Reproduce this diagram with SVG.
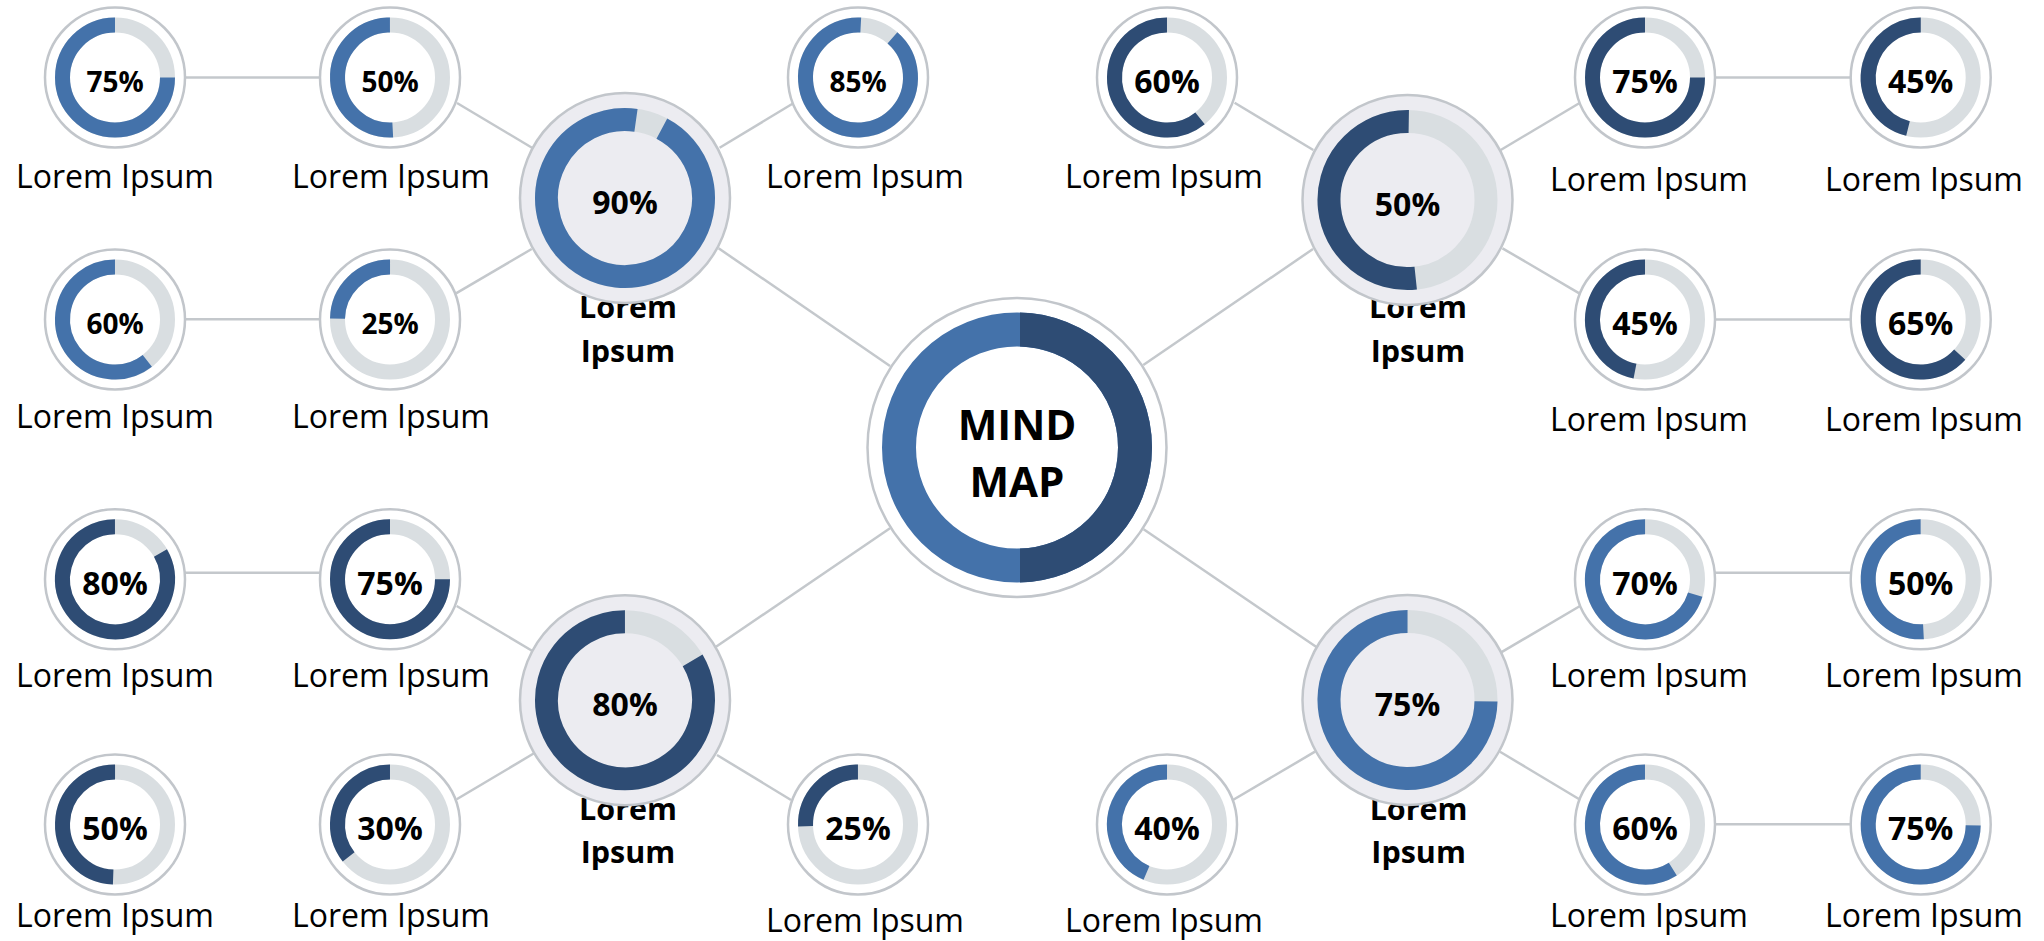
<svg xmlns="http://www.w3.org/2000/svg" width="2044" height="941" viewBox="0 0 2044 941">
<defs>
<style>
.bg{fill:#ffffff}
.conn line{stroke:#c4c8cc;stroke-width:2.5;fill:none}
.so{fill:#ffffff;stroke:#c2c6cb;stroke-width:2.5}
.ho{fill:#ececf1;stroke:#c2c6cb;stroke-width:2.5}
.sb{fill:none;stroke:#d9dee1;stroke-width:15}
.hb{fill:none;stroke:#d9dee1;stroke-width:23}
.sa{fill:none;stroke-width:15}
.ha{fill:none;stroke-width:23}
.lt{stroke:#4472aa}
.dk{stroke:#2e4c74}
.p27{font-family:"Open Sans","Liberation Sans",sans-serif;font-weight:700;font-size:28px;fill:#000;text-anchor:middle}
.p32{font-family:"Open Sans","Liberation Sans",sans-serif;font-weight:700;font-size:32px;fill:#000;text-anchor:middle}
.lbl{font-family:"Open Sans","Liberation Sans",sans-serif;font-size:32px;fill:#000;text-anchor:middle}
.hl{font-family:"Open Sans","Liberation Sans",sans-serif;font-weight:700;font-size:30.5px;fill:#000;text-anchor:middle}
.mm{font-family:"Open Sans","Liberation Sans",sans-serif;font-weight:700;font-size:42px;fill:#000;text-anchor:middle}
</style>
<clipPath id="rightHalf"><rect x="1020" y="280" width="200" height="340"/></clipPath>
</defs>
<rect class="bg" x="0" y="0" width="2044" height="941"/>

<g id="connectors" class="conn">
<line x1="185" y1="77.5" x2="320" y2="77.5"/>
<line x1="457" y1="103" x2="532" y2="147.7"/>
<line x1="456" y1="293.3" x2="531.7" y2="249"/>
<line x1="185" y1="319.3" x2="320" y2="319.3"/>
<line x1="719.6" y1="147.7" x2="793.3" y2="103.3"/>
<line x1="718.6" y1="248.3" x2="890" y2="366"/>
<line x1="1234.6" y1="102.7" x2="1313.3" y2="150"/>
<line x1="1143.3" y1="365" x2="1313" y2="249"/>
<line x1="1500.7" y1="150" x2="1580" y2="102.7"/>
<line x1="1502.5" y1="248.3" x2="1579.3" y2="293.3"/>
<line x1="1715" y1="77.5" x2="1851" y2="77.5"/>
<line x1="1715" y1="319.5" x2="1851" y2="319.5"/>
<line x1="185" y1="572.7" x2="320" y2="572.7"/>
<line x1="456.7" y1="606" x2="532" y2="650.7"/>
<line x1="456.7" y1="799.3" x2="534" y2="753.3"/>
<line x1="716" y1="646.7" x2="890" y2="528.3"/>
<line x1="717" y1="755" x2="791" y2="800"/>
<line x1="1143.6" y1="529.3" x2="1316.8" y2="647.3"/>
<line x1="1315" y1="751.7" x2="1232.9" y2="800"/>
<line x1="1500.7" y1="652.7" x2="1580" y2="606"/>
<line x1="1500" y1="751.7" x2="1579.3" y2="799.3"/>
<line x1="1715" y1="572.7" x2="1851" y2="572.7"/>
<line x1="1715" y1="824.3" x2="1851" y2="824.3"/>
</g>

<!-- Center -->
<g id="center">
<circle cx="1017" cy="447.5" r="149.5" class="so"/>
<circle cx="1017" cy="447.5" r="118" fill="none" stroke="#4472aa" stroke-width="34"/>
<circle cx="1017" cy="447.5" r="118" fill="none" stroke="#2e4c74" stroke-width="34" clip-path="url(#rightHalf)"/>
<text class="mm" x="1017" y="440">MIND</text>
<text class="mm" x="1017" y="497">MAP</text>
</g>

<!-- Hubs -->
<g id="hub-tl">
<text class="hl" x="628" y="318.3">Lorem</text>
<text class="hl" x="628" y="361.7">Ipsum</text>
<circle cx="625" cy="198" r="105" class="ho"/>
<circle cx="625" cy="198" r="78.5" class="hb"/>
<circle cx="625" cy="198" r="78.5" class="ha lt" pathLength="360" stroke-dasharray="340 360" transform="rotate(-62 625 198)"/>
<text class="p32" x="625" y="214">90%</text>
</g>
<g id="hub-tr">
<text class="hl" x="1418" y="318.3">Lorem</text>
<text class="hl" x="1418" y="361.7">Ipsum</text>
<circle cx="1407.5" cy="200" r="105" class="ho"/>
<circle cx="1407.5" cy="200" r="78.5" class="hb"/>
<circle cx="1407.5" cy="200" r="78.5" class="ha dk" pathLength="360" stroke-dasharray="187 360" transform="rotate(84 1407.5 200)"/>
<text class="p32" x="1407.5" y="216">50%</text>
</g>
<g id="hub-bl">
<text class="hl" x="628" y="820">Lorem</text>
<text class="hl" x="628" y="863.3">Ipsum</text>
<circle cx="625" cy="700.3" r="105" class="ho"/>
<circle cx="625" cy="700.3" r="78.5" class="hb"/>
<circle cx="625" cy="700.3" r="78.5" class="ha dk" pathLength="360" stroke-dasharray="300.5 360" transform="rotate(-30.5 625 700.3)"/>
<text class="p32" x="625" y="716.3">80%</text>
</g>
<g id="hub-br">
<text class="hl" x="1418.6" y="820">Lorem</text>
<text class="hl" x="1418.6" y="863.3">Ipsum</text>
<circle cx="1407.5" cy="700" r="105" class="ho"/>
<circle cx="1407.5" cy="700" r="78.5" class="hb"/>
<circle cx="1407.5" cy="700" r="78.5" class="ha lt" pathLength="360" stroke-dasharray="269 360" transform="rotate(1 1407.5 700)"/>
<text class="p32" x="1407.5" y="716">75%</text>
</g>

<!-- Top-left leaves -->
<g id="tl-a">
<circle cx="115" cy="77.5" r="70" class="so"/>
<circle cx="115" cy="77.5" r="52.5" class="sb"/>
<circle cx="115" cy="77.5" r="52.5" class="sa lt" pathLength="360" stroke-dasharray="270 360" transform="rotate(0 115 77.5)"/>
<text class="p27" x="115" y="91.5">75%</text>
<text class="lbl" x="115" y="187.7">Lorem Ipsum</text>
</g>
<g id="tl-b">
<circle cx="390" cy="77.5" r="70" class="so"/>
<circle cx="390" cy="77.5" r="52.5" class="sb"/>
<circle cx="390" cy="77.5" r="52.5" class="sa lt" pathLength="360" stroke-dasharray="183 360" transform="rotate(87 390 77.5)"/>
<text class="p27" x="390" y="91.5">50%</text>
<text class="lbl" x="391" y="187.7">Lorem Ipsum</text>
</g>
<g id="tl-c">
<circle cx="115" cy="319.5" r="70" class="so"/>
<circle cx="115" cy="319.5" r="52.5" class="sb"/>
<circle cx="115" cy="319.5" r="52.5" class="sa lt" pathLength="360" stroke-dasharray="218 360" transform="rotate(52 115 319.5)"/>
<text class="p27" x="115" y="333.5">60%</text>
<text class="lbl" x="115" y="427.7">Lorem Ipsum</text>
</g>
<g id="tl-d">
<circle cx="390" cy="319.5" r="70" class="so"/>
<circle cx="390" cy="319.5" r="52.5" class="sb"/>
<circle cx="390" cy="319.5" r="52.5" class="sa lt" pathLength="360" stroke-dasharray="89 360" transform="rotate(181 390 319.5)"/>
<text class="p27" x="390" y="333.5">25%</text>
<text class="lbl" x="391" y="427.7">Lorem Ipsum</text>
</g>
<g id="tl-e">
<circle cx="858" cy="77.5" r="70" class="so"/>
<circle cx="858" cy="77.5" r="52.5" class="sb"/>
<circle cx="858" cy="77.5" r="52.5" class="sa lt" pathLength="360" stroke-dasharray="322 360" transform="rotate(-49 858 77.5)"/>
<text class="p27" x="858" y="91.5">85%</text>
<text class="lbl" x="865" y="187.7">Lorem Ipsum</text>
</g>

<!-- Top-right leaves -->
<g id="tr-f">
<circle cx="1167" cy="77.5" r="70" class="so"/>
<circle cx="1167" cy="77.5" r="52.5" class="sb"/>
<circle cx="1167" cy="77.5" r="52.5" class="sa dk" pathLength="360" stroke-dasharray="219 360" transform="rotate(51 1167 77.5)"/>
<text class="p32" x="1167" y="93">60%</text>
<text class="lbl" x="1164" y="187.7">Lorem Ipsum</text>
</g>
<g id="tr-g">
<circle cx="1645" cy="77.5" r="70" class="so"/>
<circle cx="1645" cy="77.5" r="52.5" class="sb"/>
<circle cx="1645" cy="77.5" r="52.5" class="sa dk" pathLength="360" stroke-dasharray="270 360" transform="rotate(0 1645 77.5)"/>
<text class="p32" x="1645" y="93">75%</text>
<text class="lbl" x="1649" y="190.7">Lorem Ipsum</text>
</g>
<g id="tr-h">
<circle cx="1920.7" cy="77.5" r="70" class="so"/>
<circle cx="1920.7" cy="77.5" r="52.5" class="sb"/>
<circle cx="1920.7" cy="77.5" r="52.5" class="sa dk" pathLength="360" stroke-dasharray="166 360" transform="rotate(104 1920.7 77.5)"/>
<text class="p32" x="1920.7" y="93">45%</text>
<text class="lbl" x="1924" y="190.7">Lorem Ipsum</text>
</g>
<g id="tr-i">
<circle cx="1645" cy="319.5" r="70" class="so"/>
<circle cx="1645" cy="319.5" r="52.5" class="sb"/>
<circle cx="1645" cy="319.5" r="52.5" class="sa dk" pathLength="360" stroke-dasharray="169 360" transform="rotate(101 1645 319.5)"/>
<text class="p32" x="1645" y="335">45%</text>
<text class="lbl" x="1649" y="430.7">Lorem Ipsum</text>
</g>
<g id="tr-j">
<circle cx="1920.7" cy="319.5" r="70" class="so"/>
<circle cx="1920.7" cy="319.5" r="52.5" class="sb"/>
<circle cx="1920.7" cy="319.5" r="52.5" class="sa dk" pathLength="360" stroke-dasharray="228 360" transform="rotate(42 1920.7 319.5)"/>
<text class="p32" x="1920.7" y="335">65%</text>
<text class="lbl" x="1924" y="430.7">Lorem Ipsum</text>
</g>

<!-- Bottom-left leaves -->
<g id="bl-k">
<circle cx="115" cy="579.3" r="70" class="so"/>
<circle cx="115" cy="579.3" r="52.5" class="sb"/>
<circle cx="115" cy="579.3" r="52.5" class="sa dk" pathLength="360" stroke-dasharray="300 360" transform="rotate(-30 115 579.3)"/>
<text class="p32" x="115" y="595">80%</text>
<text class="lbl" x="115" y="686.7">Lorem Ipsum</text>
</g>
<g id="bl-l">
<circle cx="390" cy="579.3" r="70" class="so"/>
<circle cx="390" cy="579.3" r="52.5" class="sb"/>
<circle cx="390" cy="579.3" r="52.5" class="sa dk" pathLength="360" stroke-dasharray="270 360" transform="rotate(0 390 579.3)"/>
<text class="p32" x="390" y="595">75%</text>
<text class="lbl" x="391" y="686.7">Lorem Ipsum</text>
</g>
<g id="bl-m">
<circle cx="115" cy="824.5" r="70" class="so"/>
<circle cx="115" cy="824.5" r="52.5" class="sb"/>
<circle cx="115" cy="824.5" r="52.5" class="sa dk" pathLength="360" stroke-dasharray="178 360" transform="rotate(92 115 824.5)"/>
<text class="p32" x="115" y="840">50%</text>
<text class="lbl" x="115" y="926.7">Lorem Ipsum</text>
</g>
<g id="bl-n">
<circle cx="390" cy="824.5" r="70" class="so"/>
<circle cx="390" cy="824.5" r="52.5" class="sb"/>
<circle cx="390" cy="824.5" r="52.5" class="sa dk" pathLength="360" stroke-dasharray="128 360" transform="rotate(142 390 824.5)"/>
<text class="p32" x="390" y="840">30%</text>
<text class="lbl" x="391" y="926.7">Lorem Ipsum</text>
</g>
<g id="bl-o">
<circle cx="858" cy="824.5" r="70" class="so"/>
<circle cx="858" cy="824.5" r="52.5" class="sb"/>
<circle cx="858" cy="824.5" r="52.5" class="sa dk" pathLength="360" stroke-dasharray="92 360" transform="rotate(178 858 824.5)"/>
<text class="p32" x="858" y="840">25%</text>
<text class="lbl" x="865" y="931.7">Lorem Ipsum</text>
</g>

<!-- Bottom-right leaves -->
<g id="br-p">
<circle cx="1167" cy="824.5" r="70" class="so"/>
<circle cx="1167" cy="824.5" r="52.5" class="sb"/>
<circle cx="1167" cy="824.5" r="52.5" class="sa lt" pathLength="360" stroke-dasharray="157 360" transform="rotate(113 1167 824.5)"/>
<text class="p32" x="1167" y="840">40%</text>
<text class="lbl" x="1164" y="932">Lorem Ipsum</text>
</g>
<g id="br-q">
<circle cx="1645" cy="579.3" r="70" class="so"/>
<circle cx="1645" cy="579.3" r="52.5" class="sb"/>
<circle cx="1645" cy="579.3" r="52.5" class="sa lt" pathLength="360" stroke-dasharray="253 360" transform="rotate(17 1645 579.3)"/>
<text class="p32" x="1645" y="595">70%</text>
<text class="lbl" x="1649" y="686.7">Lorem Ipsum</text>
</g>
<g id="br-r">
<circle cx="1920.7" cy="579.3" r="70" class="so"/>
<circle cx="1920.7" cy="579.3" r="52.5" class="sb"/>
<circle cx="1920.7" cy="579.3" r="52.5" class="sa lt" pathLength="360" stroke-dasharray="183 360" transform="rotate(87 1920.7 579.3)"/>
<text class="p32" x="1920.7" y="595">50%</text>
<text class="lbl" x="1924" y="686.7">Lorem Ipsum</text>
</g>
<g id="br-s">
<circle cx="1645" cy="824.5" r="70" class="so"/>
<circle cx="1645" cy="824.5" r="52.5" class="sb"/>
<circle cx="1645" cy="824.5" r="52.5" class="sa lt" pathLength="360" stroke-dasharray="212 360" transform="rotate(58 1645 824.5)"/>
<text class="p32" x="1645" y="840">60%</text>
<text class="lbl" x="1649" y="926.7">Lorem Ipsum</text>
</g>
<g id="br-t">
<circle cx="1920.7" cy="824.5" r="70" class="so"/>
<circle cx="1920.7" cy="824.5" r="52.5" class="sb"/>
<circle cx="1920.7" cy="824.5" r="52.5" class="sa lt" pathLength="360" stroke-dasharray="269 360" transform="rotate(1 1920.7 824.5)"/>
<text class="p32" x="1920.7" y="840">75%</text>
<text class="lbl" x="1924" y="926.7">Lorem Ipsum</text>
</g>
</svg>
